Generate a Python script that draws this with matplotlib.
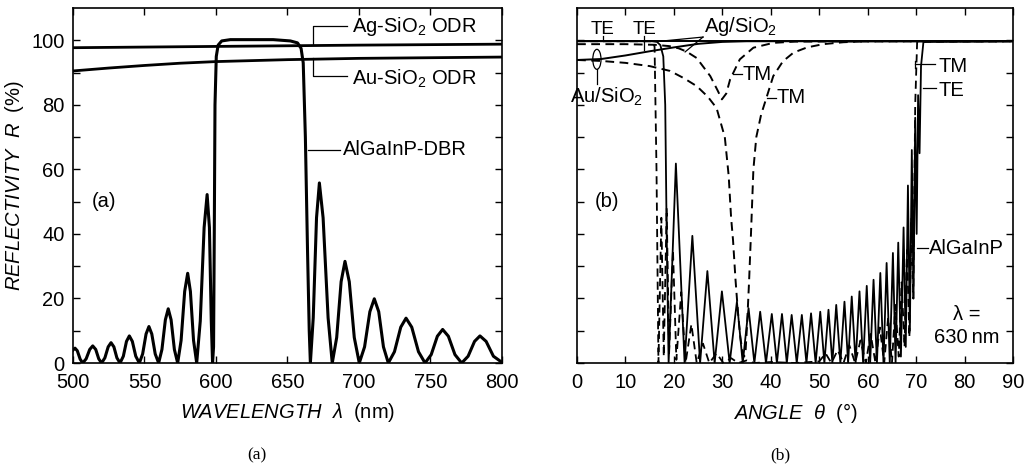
import matplotlib
matplotlib.use("Agg")
import matplotlib.pyplot as plt
from matplotlib.patches import Ellipse

plt.rcParams["font.family"] = ["Liberation Sans", "DejaVu Sans"]
plt.rcParams["mathtext.fontset"] = "custom"
plt.rcParams["mathtext.rm"] = "Liberation Sans"
plt.rcParams["mathtext.it"] = "Liberation Sans:italic"
plt.rcParams["mathtext.bf"] = "Liberation Sans:bold"

# ---- panel (a): reflectivity vs wavelength ----
wl_ag = [500, 600, 700, 800]
r_ag = [97.7, 98.1, 98.5, 98.8]

wl_au = [500, 525, 550, 575, 600, 650, 700, 750, 800]
r_au = [90.5, 91.4, 92.2, 92.9, 93.4, 94.0, 94.4, 94.6, 94.8]

wl_dbr = [500, 501.4, 503, 505, 506.8,
          509.2, 511.7, 513.8, 515.9, 518, 520,
          522.3, 524.6, 526.6, 528.6, 530.7, 532.9,
          535.2, 537.4, 539.4, 541.5, 543.9, 546.4,
          548.7, 551.1, 553.1, 555.1, 557.5, 559.9,
          562.2, 564.6, 566.6, 568.6, 570.9, 573.2,
          575.6, 578.1, 580.2, 582.1, 584.3, 586.5,
          589, 591.7, 593.8, 595.4, 596.7, 597.6,
          598.3, 598.8, 599.3, 600.2, 601.5, 604, 610, 640, 652, 657, 659.5,
          661, 662.5, 664, 665.2, 666,
          668.0, 670.3, 672.3, 674.9, 678.4, 681.3,
          684.4, 687.5, 690.2, 693.2, 696.7, 700.2,
          703.9, 707.6, 710.7, 713.8, 717.1, 720.5,
          724.8, 729.2, 732.9, 736.9, 741.6, 746.2,
          750.5, 754.8, 758.5, 762.5, 767.1, 771.8,
          776.3, 780.8, 784.6, 788.9, 794, 800]
r_dbr = [4.0, 4.6, 3.8, 1.2, 0,
         1.3, 4.2, 5.3, 4.2, 1.3, 0,
         1.6, 5.0, 6.3, 5.0, 1.6, 0,
         2.1, 6.7, 8.4, 6.7, 2.1, 0,
         2.8, 9.0, 11.3, 9.0, 2.8, 0,
         4.2, 13.4, 16.8, 13.4, 4.2, 0,
         7.0, 22.2, 27.8, 22.2, 7.0, 0,
         13, 42, 52.2, 42, 13, 0,
         5, 40, 80, 95, 98.5, 99.8, 100.2, 100.2, 99.8, 99.2, 97.5,
         93, 70, 35, 10, 0,
         14, 45, 55.8, 45, 14, 0,
         7.9, 25.2, 31.5, 25.2, 7.9, 0,
         5.0, 15.9, 19.9, 15.9, 5.0, 0,
         3.5, 11.1, 13.9, 11.1, 3.5, 0,
         2.6, 8.3, 10.4, 8.3, 2.6, 0,
         2.1, 6.7, 8.4, 6.7, 2.1, 0.2]

# ---- panel (b): reflectivity vs angle at 630 nm ----
th_ag_te = [0, 90]
r_ag_te = [99.7, 99.7]

th_ag_tm = [0, 10, 16, 19, 21, 22.6, 24.7, 27.5, 29.0, 29.9, 30.8, 31.6,
            33.6, 36.4, 40.5, 45, 90]
r_ag_tm = [98.8, 98.8, 98.6, 98.2, 97.5, 96.5, 94.5, 88.9, 84.5, 81.7, 83.5,
           87.9, 94.1, 97.7, 99.2, 99.6, 99.7]

th_au_te = [0, 5, 10, 15, 20, 25, 30, 35, 90]
r_au_te = [93.9, 94.2, 95.3, 96.6, 97.8, 98.9, 99.5, 99.7, 99.7]

th_au_tm = [0, 5, 10, 15, 19.2, 22, 24.7, 27, 28.8, 30.5, 31.3, 31.8, 32.2,
            32.7, 33.2, 33.7, 34.2, 34.5, 34.8, 35.1, 35.5, 35.9, 36.4, 37.0,
            38.0, 39.2, 40.5, 42.5, 44.7, 47.5, 50.8, 55, 60, 90]
r_au_tm = [93.9, 93.6, 93.0, 92.0, 90.5, 88.3, 85.8, 82.5, 79, 70, 58, 45,
           38, 26, 16, 8, 3, 2, 4, 12, 25, 40, 60, 70,
           77, 82.7, 88.9, 93.5, 96.2, 97.8, 98.8, 99.4, 99.7, 99.7]

th_dbr_te = [0, 15.5, 16.5, 17.2, 17.8, 18.2, 18.5, 18.9,
             20.4, 22.2, 23.8, 25.4, 26.9, 28.4, 29.9, 31.5, 33.0, 34.2,
             35.4, 36.6, 37.8, 39.0, 40.2, 41.25, 42.3, 43.3, 44.3, 45.35,
             46.4, 47.35, 48.3, 49.25, 50.2, 51.05, 51.9, 52.7, 53.5, 54.35,
             55.2, 55.95, 56.7, 57.5, 58.3, 59.05, 59.8, 60.5, 61.2, 61.9,
             62.6, 63.25, 63.9, 64.55, 65.2, 65.75, 66.3, 66.85, 67.4, 67.85,
             68.3, 68.7, 69.1, 69.45, 69.8, 70.1, 70.4, 70.7, 71.0, 71.5, 90]
r_dbr_te = [99.7, 99.7, 99.5, 98.5, 95, 80, 40, 0,
            61.8, 0, 39.4, 0, 28.5, 0, 22.2, 0, 19.0, 0,
            17.0, 0, 15.9, 0, 15.2, 0, 15.2, 0, 14.9, 0,
            14.9, 0, 15.4, 0, 15.9, 0, 16.5, 0, 18.0, 0,
            19.0, 0, 20.6, 0, 22.2, 0, 23.9, 0, 25.8, 0,
            27.9, 0, 31.0, 0, 34.1, 0, 37.3, 2, 42, 5,
            55, 10, 66, 20, 76, 40, 83, 65, 92, 99.5, 99.7]

th_dbr_tm = [0, 15.6, 16.0, 16.4, 16.8, 17.4, 17.9, 18.5, 19.0, 19.8, 20.5,
             21.5, 22.4, 23.6, 24.7, 26.0, 27.3, 28.8, 30.2, 31.8, 33.3, 35,
             36.5, 40, 45, 50, 51.3, 52.5, 53.8, 55.0, 56.2, 57.4, 58.5, 59.6,
             60.6, 61.6, 62.5, 63.4, 64.2, 65.0, 65.7, 66.4, 67.0, 67.6, 68.1,
             68.6, 69.0, 69.4, 69.8, 70.2, 90]
r_dbr_tm = [99.7, 99.7, 98, 60, 0, 45, 2, 48, 3, 35, 1,
            22, 0, 12, 0, 6, 0, 3, 0, 1.5, 0, 0.8,
            0, 0.3, 0, 0.5, 3, 0, 4, 0, 5.5, 0, 7, 0,
            9, 0, 11, 0, 14, 0, 18, 2, 25, 5, 35,
            8, 45, 20, 80, 99.5, 99.7]

FS = 14.5
fig = plt.figure(figsize=(10.31, 4.66), dpi=100)
ax_a = fig.add_axes([0.0708, 0.2210, 0.4161, 0.7618])
ax_b = fig.add_axes([0.5597, 0.2210, 0.4229, 0.7618])

for ax in (ax_a, ax_b):
    ax.tick_params(which="both", direction="in", top=True, right=True,
                   length=5, width=1, labelsize=FS, pad=6)
    ax.tick_params(axis="x", pad=7)
    for sp in ax.spines.values():
        sp.set_linewidth(1.2)
    ax.set_ylim(0, 110)
    ax.set_yticks(range(0, 101, 10))

# panel (a)
ax_a.plot(wl_ag, r_ag, color="black", lw=2.0)
ax_a.plot(wl_au, r_au, color="black", lw=2.0)
ax_a.plot(wl_dbr, r_dbr, color="black", lw=2.2, solid_joinstyle="round")
ax_a.set_xlim(500, 800)
ax_a.set_xticks(range(500, 801, 50))
ax_a.set_yticklabels([str(v) if v % 20 == 0 else "" for v in range(0, 101, 10)])
ax_a.set_xlabel(r"$WAVELENGTH\ \ \lambda$  (nm)", fontsize=FS, labelpad=7)
ax_a.set_ylabel(r"$REFLECTIVITY\ \ R$  (%)", fontsize=FS, labelpad=4)

lw_lead = 0.9
ax_a.plot([667.8, 667.8, 691.6], [98.8, 104.4, 104.4], color="black", lw=lw_lead)
ax_a.text(695, 104.3, "Ag-SiO$_2$ ODR", fontsize=FS, va="center")
ax_a.plot([667.8, 667.8, 691.6], [94.4, 88.8, 88.8], color="black", lw=lw_lead)
ax_a.text(695, 87.9, "Au-SiO$_2$ ODR", fontsize=FS, va="center")
ax_a.plot([664.3, 686.7], [66.1, 66.1], color="black", lw=lw_lead)
ax_a.text(689, 66.1, "AlGaInP-DBR", fontsize=FS, va="center")
ax_a.text(522, 50, "(a)", fontsize=FS, ha="center", va="center")

# panel (b)
dash = (0, (4.5, 2.8))
ax_b.plot(th_ag_te, r_ag_te, color="black", lw=1.4)
ax_b.plot(th_au_te, r_au_te, color="black", lw=1.4)
ax_b.plot(th_ag_tm, r_ag_tm, color="black", lw=1.4, ls=dash)
ax_b.plot(th_au_tm, r_au_tm, color="black", lw=1.4, ls=dash)
ax_b.plot(th_dbr_tm, r_dbr_tm, color="black", lw=1.3, ls=dash)
ax_b.plot(th_dbr_te, r_dbr_te, color="black", lw=1.3)
ax_b.set_xlim(0, 90)
ax_b.set_xticks(range(0, 91, 10))
ax_b.set_yticklabels([])
ax_b.set_xlabel(r"$ANGLE\ \ \theta$  (°)", fontsize=FS, labelpad=7)

ax_b.text(5.3, 103.2, "TE", fontsize=FS - 1, ha="center", va="center")
ax_b.plot([5.4, 5.4], [101.3, 99.8], color="black", lw=lw_lead)
ax_b.text(14.0, 103.2, "TE", fontsize=FS - 1, ha="center", va="center")
ax_b.plot([13.8, 13.8], [101.3, 97.0], color="black", lw=lw_lead)
ax_b.text(26.2, 104.4, "Ag/SiO$_2$", fontsize=FS, ha="left", va="center")
ax_b.plot([26.0, 17.1], [101.0, 99.7], color="black", lw=lw_lead)
ax_b.plot([26.0, 22.3], [101.0, 96.4], color="black", lw=lw_lead)
ax_b.add_patch(Ellipse((4.1, 94.1), 1.7, 6.2, fill=False, color="black", lw=lw_lead))
ax_b.plot([4.1, 4.1], [91.0, 86.6], color="black", lw=lw_lead)
ax_b.text(6.0, 82.4, "Au/SiO$_2$", fontsize=FS, ha="center", va="center", clip_on=False)
ax_b.plot([32.2, 34.0], [89.4, 89.4], color="black", lw=lw_lead)
ax_b.text(34.2, 89.4, "TM", fontsize=FS, va="center")
ax_b.plot([39.2, 41.0], [82.2, 82.2], color="black", lw=lw_lead)
ax_b.text(41.2, 82.2, "TM", fontsize=FS, va="center")
ax_b.plot([69.8, 69.8], [91.4, 93.6], color="black", lw=lw_lead)
ax_b.plot([69.8, 73.9], [92.5, 92.5], color="black", lw=lw_lead)
ax_b.text(74.6, 92.0, "TM", fontsize=FS, va="center")
ax_b.plot([71.4, 74.1], [85.3, 85.3], color="black", lw=lw_lead)
ax_b.text(74.6, 84.3, "TE", fontsize=FS, va="center")
ax_b.plot([70.1, 72.5], [35.6, 35.6], color="black", lw=lw_lead)
ax_b.text(72.7, 35.6, "AlGaInP", fontsize=FS, va="center")
ax_b.text(80.5, 14.9, "\u03bb =", fontsize=FS, ha="center", va="center")
ax_b.text(80.5, 7.8, "630\u2009nm", fontsize=FS, ha="center", va="center")
ax_b.text(6.1, 50, "(b)", fontsize=FS, ha="center", va="center")

fig.text(257 / 1031, 1 - 455 / 466, "(a)", family="Liberation Serif",
         fontsize=12.5, ha="center", va="center")
fig.text(780 / 1031, 1 - 455 / 466, "(b)", family="Liberation Serif",
         fontsize=12.5, ha="center", va="center")

fig.savefig("out.png", dpi=100)
